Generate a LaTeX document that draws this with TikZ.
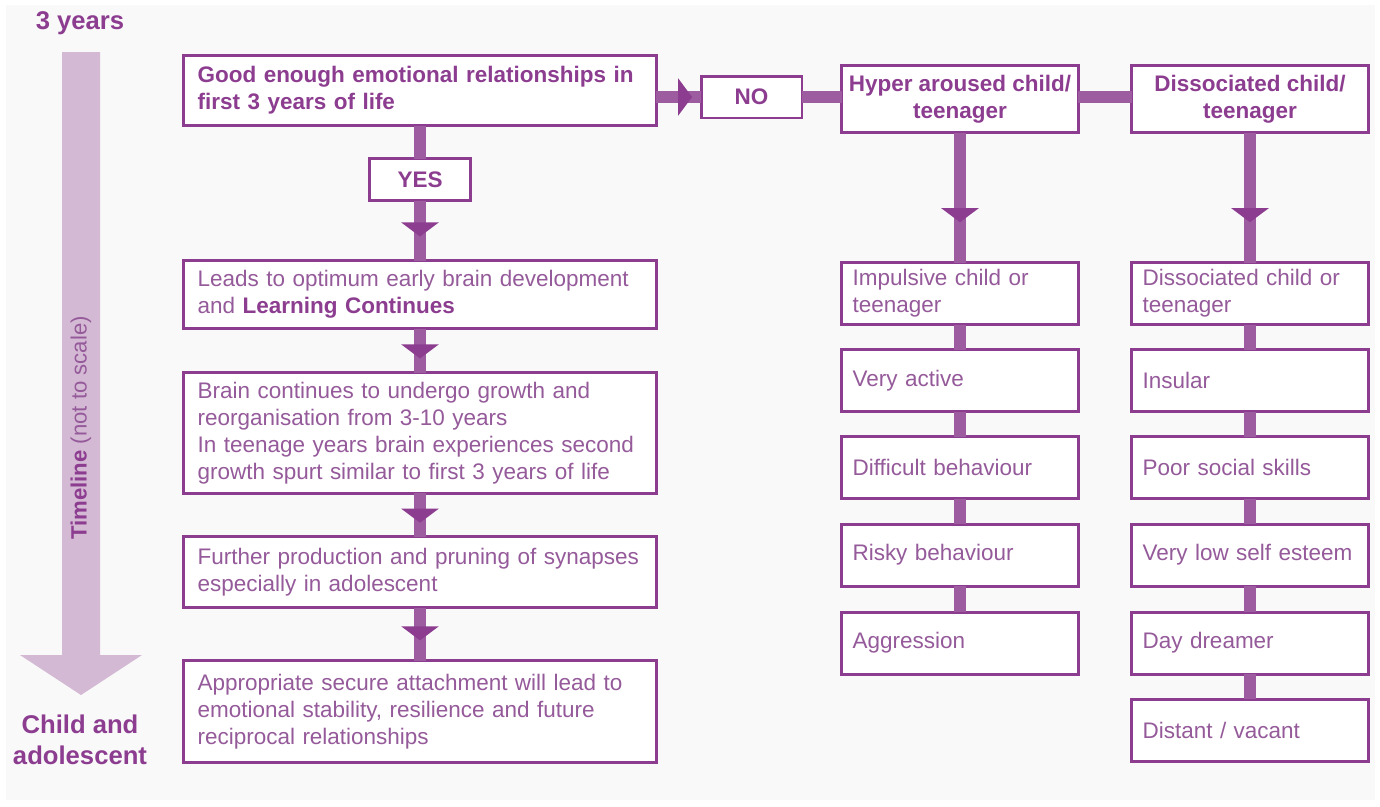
\documentclass[tikz,border=0pt]{standalone}
\usepackage{fontspec}
\setmainfont{Liberation Sans}
\usetikzlibrary{arrows.meta,decorations.markings}
\definecolor{boxPurple}{HTML}{8C3D90}
\definecolor{linkPurple}{HTML}{9C5C9F}
\definecolor{bodyPurple}{HTML}{955A9A}
\definecolor{timePurple}{HTML}{D4B9D4}
\definecolor{pageGray}{HTML}{F9F9F9}
\newcommand\boxfont{\fontsize{12.8}{15.3}\selectfont}
\newcommand\stagefont{\fontsize{14.6}{17.6}\selectfont\bfseries}

\begin{document}
\begin{tikzpicture}[x=0.02cm,y=-0.02cm,inner sep=0pt,outer sep=0pt,
stagebox/.style={draw=boxPurple,line width=1.7pt,fill=white,rectangle,font=\boxfont,text=bodyPurple,align=left,inner ysep=0pt},
leftbox/.style={stagebox,text width=8.9cm,inner xsep=0.28cm},
sidebox/.style={stagebox,text width=4.3cm,inner xsep=0.22cm,minimum height=1.24cm},
headbox/.style={stagebox,minimum width=4.74cm,minimum height=1.34cm,align=center,font=\boxfont\bfseries,text=boxPurple},
answer/.style={stagebox,minimum width=2.02cm,minimum height=0.84cm,align=center,font=\boxfont\bfseries,text=boxPurple},
linkline/.style={draw=linkPurple,line width=6.8pt},
midarrow/.style={postaction={decorate},decoration={markings,mark=at position #1 with {\arrow[boxPurple]{Triangle[width=21pt,length=8pt]}}}}]
\useasboundingbox (0,0) rectangle (1380,806);
\fill[white] (0,0) rectangle (1380,806);
\fill[pageGray] (6,5) rectangle (1375,800);

% timeline
\fill[timePurple] (62,52) -- (100,52) -- (100,655) -- (142,655) -- (81,695) -- (20,655) -- (62,655) -- cycle;
\draw (80,23) node[font=\stagefont,text=boxPurple] (start) {3 years};
\draw (81,428) node[rotate=90,font=\fontsize{12.6}{15}\selectfont,text=boxPurple] (timeline) {\textbf{Timeline} \textcolor{bodyPurple}{(not to scale)}};
\draw (80,740) node[font=\stagefont,text=boxPurple,align=center] (end) {Child and\\adolescent};

% left column
\draw (420,90.5) node[leftbox,minimum height=1.4cm,font=\boxfont\bfseries,text=boxPurple] (good) {Good enough emotional relationships in\\first 3 years of life};
\draw (420,179.5) node[answer] (yes) {YES};
\draw (420,294.5) node[leftbox,minimum height=1.36cm] (leads) {Leads to optimum early brain development\\and \textcolor{boxPurple}{\textbf{Learning Continues}}};
\draw (420,433) node[leftbox,minimum height=2.42cm] (growth) {Brain continues to undergo growth and\\reorganisation from 3-10 years\\In teenage years brain experiences second\\growth spurt similar to first 3 years of life};
\draw (420,572) node[leftbox,minimum height=1.42cm] (prune) {Further production and pruning of synapses\\especially in adolescent};
\draw (420,711.5) node[leftbox,minimum height=2.04cm] (secure) {Appropriate secure attachment will lead to\\emotional stability, resilience and future\\reciprocal relationships};

% no branch
\draw (751.5,97) node[answer] (no) {NO};
\draw (960,99) node[headbox] (hyper) {Hyper aroused child/\\teenager};
\draw (1250,99) node[headbox] (dissoc) {Dissociated child/\\teenager};

\draw (960,293.5) node[sidebox] (hyA) {Impulsive child or\\teenager};
\draw (960,380.5) node[sidebox] (hyB) {Very active};
\draw (960,467.5) node[sidebox] (hyC) {Difficult behaviour};
\draw (960,555) node[sidebox] (hyD) {Risky behaviour};
\draw (960,643) node[sidebox] (hyE) {Aggression};

\draw (1250,293.5) node[sidebox] (diA) {Dissociated child or\\teenager};
\draw (1250,380.5) node[sidebox] (diB) {Insular};
\draw (1250,467.5) node[sidebox] (diC) {Poor social skills};
\draw (1250,555) node[sidebox] (diD) {Very low self esteem};
\draw (1250,643) node[sidebox] (diE) {Day dreamer};
\draw (1250,730) node[sidebox] (diF) {Distant / vacant};

% connectors
\draw[linkline] (good.south) -- (yes.north);
\draw[linkline,midarrow=0.6] (yes.south) -- (leads.north);
\draw[linkline,midarrow=0.68] (leads.south) -- (growth.north);
\draw[linkline,midarrow=0.68] (growth.south) -- (prune.north);
\draw[linkline,midarrow=0.62] (prune.south) -- (secure.north);
\draw[linkline,midarrow=0.8] (no.west -| good.east) -- (no.west);
\draw[linkline] (no.east) -- (no.east -| hyper.west);
\draw[linkline] (no.east -| hyper.east) -- (no.east -| dissoc.west);
\draw[linkline,midarrow=0.69] (hyper.south) -- (hyA.north);
\draw[linkline,midarrow=0.69] (dissoc.south) -- (diA.north);
\foreach \a/\b in {hyA/hyB,hyB/hyC,hyC/hyD,hyD/hyE,diA/diB,diB/diC,diC/diD,diD/diE,diE/diF}
  \draw[linkline] (\a.south) -- (\b.north);
\end{tikzpicture}
\end{document}
